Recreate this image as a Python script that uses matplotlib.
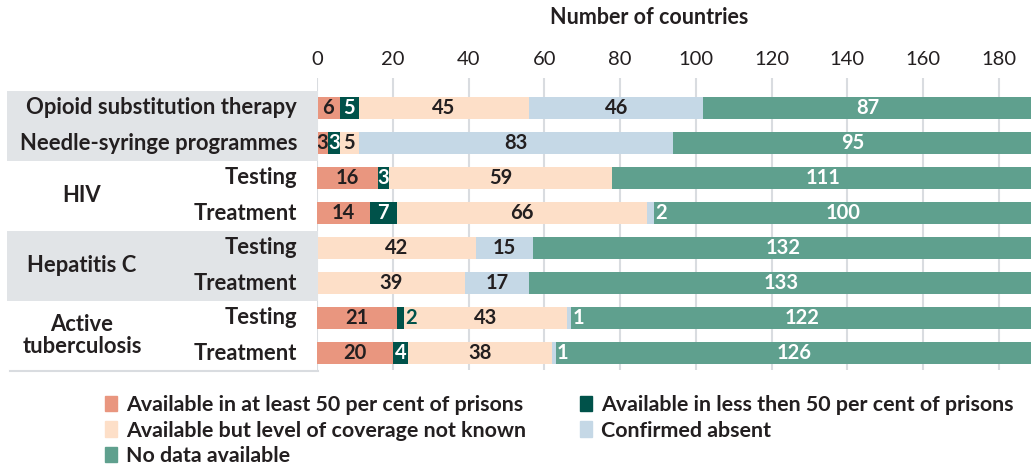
import matplotlib
matplotlib.use("Agg")
import matplotlib.pyplot as plt
import matplotlib.transforms as mtransforms
from matplotlib.patches import Patch, Rectangle

plt.rcParams["font.family"] = ["Lato", "DejaVu Sans"]

# data
row_labels = ["Opioid substitution therapy", "Needle-syringe programmes",
              "Testing", "Treatment", "Testing", "Treatment", "Testing", "Treatment"]
group_labels = ["HIV", "Hepatitis C", "Active\ntuberculosis"]
at_least_50 = [6, 3, 16, 14, 0, 0, 21, 20]
less_than_50 = [5, 3, 3, 7, 0, 0, 2, 4]
level_unknown = [45, 5, 59, 66, 42, 39, 43, 38]
confirmed_absent = [46, 83, 0, 2, 15, 17, 1, 1]
no_data = [87, 95, 111, 100, 132, 133, 122, 126]

series = [
    ("Available in at least 50 per cent of prisons", at_least_50, "#E9967F", "#231F20"),
    ("Available in less then 50 per cent of prisons", less_than_50, "#00524A", "white"),
    ("Available but level of coverage not known", level_unknown, "#FDDFC8", "#231F20"),
    ("Confirmed absent", confirmed_absent, "#C5D8E6", "#231F20"),
    ("No data available", no_data, "#5FA08E", "white"),
]
xticks = [0, 20, 40, 60, 80, 100, 120, 140, 160, 180]

DARK = "#231F20"
W, H = 1031, 466
fig = plt.figure(figsize=(W / 100, H / 100), dpi=100)
ax = fig.add_axes([317 / W, 1 - 370 / H, 1 - 317 / W, (370 - 78) / H])

n = len(row_labels)
ys = list(range(n))
left = [0] * n
for k, (name, vals, color, tcolor) in enumerate(series):
    ax.barh(ys, vals, left=left, height=0.63, color=color, zorder=2)
    for i, v in enumerate(vals):
        if v == 0:
            continue
        if v <= 2:
            # narrow segment: label sits just right of it
            c = "white" if series[k + 1][2] == "#5FA08E" else color
            ax.text(left[i] + v + 0.4, i, str(v), ha="left", va="center",
                    fontsize=14.5, fontweight="bold", color=c, zorder=3)
        else:
            ax.text(left[i] + v / 2, i, str(v), ha="center", va="center",
                    fontsize=14.5, fontweight="bold", color=tcolor, zorder=3)
    left = [a + b for a, b in zip(left, vals)]

ax.set_xlim(0, 188.5)
ax.set_ylim(7 + 17 / 35, -30 / 35)
ax.xaxis.tick_top()
ax.set_xticks(xticks)
ax.set_xticklabels([str(t) for t in xticks], fontsize=14.5, color=DARK)
ax.tick_params(axis="x", length=0, pad=7)
ax.set_yticks([])
for s in ax.spines.values():
    s.set_visible(False)
ax.grid(axis="x", color="#D9DCE0", linewidth=1.5, zorder=0)

# left label panel
trans = mtransforms.blended_transform_factory(fig.transFigure, ax.transData)
for y0, y1 in [(-0.5, 1.5), (3.5, 5.5)]:
    fig.patches.append(Rectangle((7 / W, y0), 311 / W, y1 - y0, transform=trans,
                                 facecolor="#E1E4E7", edgecolor="none", zorder=0))
fig.lines.append(plt.Line2D([10 / W, 318 / W], [7.5, 7.5], transform=trans,
                            color="#D9DCE0", linewidth=1.5))

for i, lab in enumerate(row_labels):
    fig.text(297 / W, i, lab, transform=trans, ha="right", va="center",
             fontsize=15.8, fontweight="bold", color=DARK)
for g, lab in enumerate(group_labels):
    fig.text(82 / W, 2.5 + 2 * g, lab, transform=trans, ha="center", va="center",
             fontsize=15.8, fontweight="bold", color=DARK, linespacing=1.05)

fig.text(649 / W, 1 - 18 / H, "Number of countries", ha="center", va="center",
         fontsize=15.5, fontweight="bold", color=DARK)

handles = [Patch(color=series[j][2], label=series[j][0]) for j in [0, 2, 4, 1, 3]]
fig.legend(handles=handles, ncol=2, loc="upper left", bbox_to_anchor=(105 / W, 1 - 395 / H),
           frameon=False, handlelength=0.55, handleheight=0.75, handletextpad=0.45,
           columnspacing=2.5, labelspacing=0.26, borderaxespad=0, borderpad=0,
           prop={"weight": "bold", "size": 15.4}, labelcolor=DARK)

fig.savefig("out.png", dpi=100)
